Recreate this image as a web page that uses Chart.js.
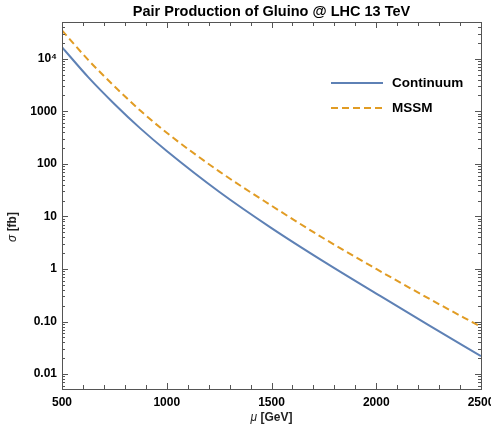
<!DOCTYPE html>
<html>
<head>
<meta charset="utf-8">
<script src="https://cdn.jsdelivr.net/npm/chart.js@4.4.1/dist/chart.umd.min.js"></script>
<style>
  html, body { margin: 0; padding: 0; background: #fff; }
  #wrap { width: 491px; height: 425px; }
</style>
</head>
<body>
<div id="wrap"><canvas id="chart"></canvas></div>
<script>
// gluino mass (GeV) and cross sections (fb)
const massGeV   = [500, 625, 750, 875, 1000, 1250, 1500, 1750, 2000, 2250, 2500];
const continuum = [16600, 4470, 1380, 468, 176, 29.5, 6.0, 1.38, 0.34, 0.085, 0.022];
const mssm      = [34700, 9500, 3000, 1020, 390, 72, 16, 3.8, 1.0, 0.275, 0.079];

const xTickValues = [500, 1000, 1500, 2000, 2500];
const yTickValues = [0.01, 0.1, 1, 10, 100, 1000, 10000];
const yTickLabels = ['0.01', '0.10', '1', '10', '100', '1000', '10\u2074'];

const TITLE = 'Pair Production of Gluino @ LHC 13 TeV';
const FONT = "'Liberation Sans', Arial, sans-serif";
const BLUE = '#5E81B5';
const ORANGE = '#E19C24';
const FRAME = '#555';

function pairs(ys) {
    return massGeV.map((x, i) => ({ x: x, y: ys[i] }));
}

// title over the plot, frame with inward ticks, legend and axis titles
const framePlugin = {
    id: 'frame',
    afterDraw(chart) {
        const ctx = chart.ctx;
        const a = chart.chartArea;
        const xs = chart.scales.x;
        const ys = chart.scales.y;
        ctx.save();

        ctx.fillStyle = '#000';
        ctx.font = 'bold 14.5px ' + FONT;
        ctx.textAlign = 'center';
        ctx.textBaseline = 'middle';
        ctx.fillText(TITLE, (a.left + a.right) / 2, 12);

        ctx.strokeStyle = FRAME;
        ctx.lineWidth = 1;
        ctx.strokeRect(Math.round(a.left) + 0.5, Math.round(a.top) + 0.5,
            Math.round(a.right - a.left), Math.round(a.bottom - a.top));

        ctx.beginPath();
        for (let v = 500; v <= 2500; v += 100) {
            const px = Math.round(xs.getPixelForValue(v)) + 0.5;
            const len = v % 500 === 0 ? 6 : 4;
            ctx.moveTo(px, a.bottom); ctx.lineTo(px, a.bottom - len);
            ctx.moveTo(px, a.top); ctx.lineTo(px, a.top + len);
        }
        for (let d = -3; d <= 4; d++) {
            for (let m = 1; m <= 9; m++) {
                const v = m * Math.pow(10, d);
                if (v < ys.min || v > ys.max) continue;
                const py = Math.round(ys.getPixelForValue(v)) + 0.5;
                const len = m === 1 ? 6 : 3;
                ctx.moveTo(a.left, py); ctx.lineTo(a.left + len, py);
                ctx.moveTo(a.right, py); ctx.lineTo(a.right - len, py);
            }
        }
        ctx.stroke();

        // legend
        const rows = [83, 108];
        chart.data.datasets.forEach((ds, i) => {
            ctx.beginPath();
            ctx.strokeStyle = ds.borderColor;
            ctx.lineWidth = ds.borderWidth;
            ctx.setLineDash(ds.borderDash || []);
            ctx.moveTo(331, rows[i]);
            ctx.lineTo(383, rows[i]);
            ctx.stroke();
            ctx.setLineDash([]);
            ctx.fillStyle = '#000';
            ctx.font = 'bold 13.5px ' + FONT;
            ctx.textBaseline = 'middle';
            ctx.textAlign = 'left';
            ctx.fillText(ds.label, 392, rows[i]);
        });

        // axis titles
        ctx.fillStyle = '#222';
        ctx.textBaseline = 'middle';
        ctx.textAlign = 'left';
        const xt = (a.left + a.right) / 2;
        ctx.font = 'italic 12px ' + FONT;
        const muW = ctx.measureText('\u03bc ').width;
        ctx.font = 'bold 12px ' + FONT;
        const restW = ctx.measureText('[GeV]').width;
        let sx = xt - (muW + restW) / 2;
        ctx.font = 'italic 12px ' + FONT;
        ctx.fillText('\u03bc ', sx, 418);
        ctx.font = 'bold 12px ' + FONT;
        ctx.fillText('[GeV]', sx + muW, 418);

        ctx.translate(13, 227);
        ctx.rotate(-Math.PI / 2);
        ctx.font = 'italic 12px ' + FONT;
        const sgW = ctx.measureText('\u03c3 ').width;
        ctx.font = 'bold 12px ' + FONT;
        const fbW = ctx.measureText('[fb]').width;
        sx = -(sgW + fbW) / 2;
        ctx.font = 'italic 12px ' + FONT;
        ctx.fillText('\u03c3 ', sx, 0);
        ctx.font = 'bold 12px ' + FONT;
        ctx.fillText('[fb]', sx + sgW, 0);
        ctx.restore();
    }
};

new Chart(document.getElementById('chart'), {
    type: 'line',
    data: {
        datasets: [
            {
                label: 'Continuum',
                data: pairs(continuum),
                borderColor: BLUE,
                borderWidth: 2,
                pointRadius: 0,
                cubicInterpolationMode: 'monotone',
                fill: false
            },
            {
                label: 'MSSM',
                data: pairs(mssm),
                borderColor: ORANGE,
                borderWidth: 2,
                borderDash: [7, 4],
                pointRadius: 0,
                cubicInterpolationMode: 'monotone',
                fill: false
            }
        ]
    },
    options: {
        responsive: true,
        maintainAspectRatio: false,
        animation: false,
        layout: { padding: { left: 0, right: 10, top: 22, bottom: 0 } },
        plugins: {
            legend: { display: false },
            tooltip: { enabled: false },
            title: { display: false }
        },
        scales: {
            x: {
                type: 'linear',
                min: 500,
                max: 2500,
                grid: { display: false, drawTicks: false },
                border: { display: false },
                afterBuildTicks: s => { s.ticks = xTickValues.map(v => ({ value: v })); },
                afterFit: s => { s.height = 36; s.paddingLeft = 0; s.paddingRight = 0; },
                ticks: {
                    padding: 6,
                    maxRotation: 0,
                    color: '#000',
                    font: { family: FONT, size: 12, weight: 'bold' },
                    callback: v => String(v)
                }
            },
            y: {
                type: 'logarithmic',
                min: 0.0052,
                max: 50000,
                grid: { display: false, drawTicks: false },
                border: { display: false },
                afterBuildTicks: s => { s.ticks = yTickValues.map(v => ({ value: v })); },
                afterFit: s => { s.width = 62; s.paddingTop = 0; s.paddingBottom = 0; },
                ticks: {
                    padding: 5,
                    color: '#000',
                    font: { family: FONT, size: 12, weight: 'bold' },
                    callback: v => {
                        const i = yTickValues.findIndex(t => Math.abs(t - v) / t < 1e-6);
                        return i >= 0 ? yTickLabels[i] : '';
                    }
                }
            }
        }
    },
    plugins: [framePlugin]
});
</script>
</body>
</html>
